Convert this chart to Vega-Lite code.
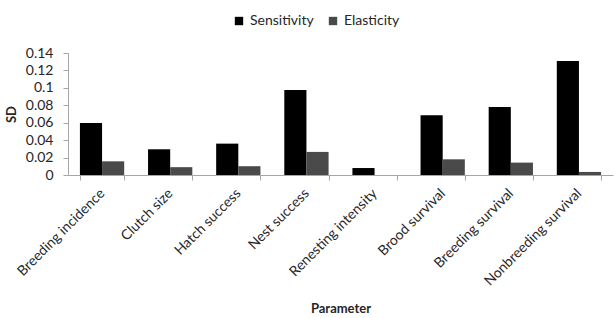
{
  "$schema": "https://vega.github.io/schema/vega-lite/v6.json",
  "width": 545,
  "height": 122,
  "autosize": {"type": "none"},
  "padding": {"left": 68, "top": 53, "right": 2, "bottom": 143},
  "background": "white",
  "config": {
    "font": "Lato",
    "view": {"stroke": null},
    "axis": {"grid": false, "domainColor": "#a6a6a6", "tickColor": "#a6a6a6", "labelColor": "#262626", "titleColor": "#262626", "labelFont": "Lato", "titleFont": "Lato", "labelFontSize": 14, "titleFontSize": 13}
  },
  "data": {
    "values": [
      {"parameter": "Breeding incidence", "measure": "Sensitivity", "sd": 0.0598},
      {"parameter": "Breeding incidence", "measure": "Elasticity", "sd": 0.0157},
      {"parameter": "Clutch size", "measure": "Sensitivity", "sd": 0.0295},
      {"parameter": "Clutch size", "measure": "Elasticity", "sd": 0.009},
      {"parameter": "Hatch success", "measure": "Sensitivity", "sd": 0.036},
      {"parameter": "Hatch success", "measure": "Elasticity", "sd": 0.0101},
      {"parameter": "Nest success", "measure": "Sensitivity", "sd": 0.0974},
      {"parameter": "Nest success", "measure": "Elasticity", "sd": 0.0265},
      {"parameter": "Renesting intensity", "measure": "Sensitivity", "sd": 0.008},
      {"parameter": "Renesting intensity", "measure": "Elasticity", "sd": 0},
      {"parameter": "Brood survival", "measure": "Sensitivity", "sd": 0.0687},
      {"parameter": "Brood survival", "measure": "Elasticity", "sd": 0.018},
      {"parameter": "Breeding survival", "measure": "Sensitivity", "sd": 0.0779},
      {"parameter": "Breeding survival", "measure": "Elasticity", "sd": 0.0142},
      {"parameter": "Nonbreeding survival", "measure": "Sensitivity", "sd": 0.1308},
      {"parameter": "Nonbreeding survival", "measure": "Elasticity", "sd": 0.0035}
    ]
  },
  "mark": {"type": "bar"},
  "encoding": {
    "x": {
      "field": "parameter",
      "type": "nominal",
      "sort": null,
      "title": "Parameter",
      "scale": {"paddingInner": 0.35, "paddingOuter": 0.175},
      "axis": {"labelAngle": -45, "labelAlign": "right", "labelBaseline": "middle", "tickBand": "extent", "tickSize": 5, "labelPadding": 11, "titleFontWeight": "bold", "titlePadding": 14}
    },
    "xOffset": {"field": "measure", "type": "nominal", "sort": ["Sensitivity", "Elasticity"]},
    "y": {
      "field": "sd",
      "type": "quantitative",
      "title": "SD",
      "scale": {"domain": [0, 0.14], "nice": false},
      "axis": {"values": [0, 0.02, 0.04, 0.06, 0.08, 0.1, 0.12, 0.14], "format": "~g", "tickSize": 5, "labelPadding": 10, "titleFontWeight": "bold", "titlePadding": 7}
    },
    "color": {
      "field": "measure",
      "type": "nominal",
      "sort": ["Sensitivity", "Elasticity"],
      "scale": {"domain": ["Sensitivity", "Elasticity"], "range": ["#000000", "#4a4a4a"]},
      "legend": {"orient": "none", "direction": "horizontal", "legendX": 164, "legendY": -39, "title": null, "symbolType": "square", "symbolSize": 70, "symbolStrokeWidth": 0, "labelFontSize": 14, "labelFont": "Lato", "labelColor": "#262626", "columnPadding": 12, "labelOffset": 4}
    }
  }
}
